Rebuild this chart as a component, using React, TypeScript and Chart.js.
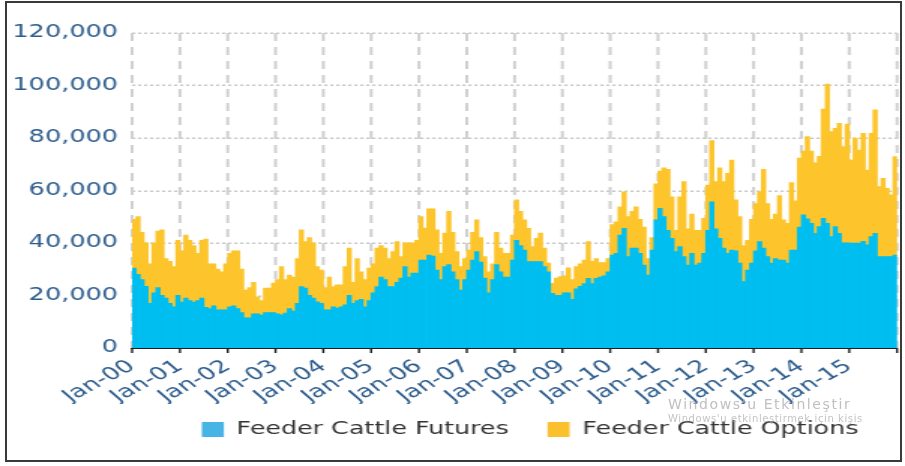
import React, { useEffect, useRef } from "react";
import Chart from "chart.js/auto";

// Monthly volume, thousands of contracts, Jan-2000 .. Dec-2015
const futuresVolume = [
  30.4, 28, 26, 23.5, 17, 21, 23, 20, 19, 17, 15.7, 20,
  17.5, 19, 18, 17.5, 18, 19, 15.5, 15, 16, 14.5, 14.5, 14.5,
  15.7, 16, 15, 13.5, 11.5, 11.5, 13, 13, 12.5, 13.5, 13.5, 13.5,
  13, 12.6, 13.3, 15, 14, 17, 23.4, 22.8, 20, 19, 17.6, 17,
  14.5, 14.5, 15.7, 15.2, 15.7, 16.4, 20, 17, 18, 18.5, 15.7, 18,
  21, 23.4, 27, 26, 23.4, 23.4, 25, 26.6, 31, 27, 28.5, 28.5,
  33.5, 33.5, 35.4, 35, 29.7, 26, 31, 31.8, 29, 26, 22, 26,
  29.7, 33.5, 36.7, 32.7, 26.6, 21, 26, 31.8, 29, 27, 27, 33.5,
  41, 39, 37.3, 32.9, 32.9, 32.9, 32.9, 31, 29, 20.8, 20, 20,
  21, 21, 18.5, 22.5, 23.5, 24.5, 26.5, 24.5, 26.5, 27, 27.5, 29,
  35.4, 36, 43, 45.6, 34.8, 38, 38, 36, 31.6, 27.8, 37.3, 48.8,
  53.2, 50, 44.8, 41.8, 36.7, 38.6, 34.8, 31.6, 36, 31.6, 32.3, 36,
  44.8, 55.7, 45.4, 41.8, 38, 36, 37.3, 37, 32.3, 25.3, 29.7, 32.3,
  37, 40.5, 38, 34.8, 32.3, 34, 33.5, 33.5, 32.3, 37.3, 37.3, 46,
  50.7, 49.2, 47.5, 43.7, 46.2, 49.4, 47.5, 42.4, 46.2, 43.7, 40, 40,
  39.9, 39.9, 39.9, 40.6, 39.3, 42.4, 43.7, 34.8, 34.8, 34.8, 34.8, 35.4,
];

const optionsVolume = [
  18.6, 22, 18, 16.5, 15, 19, 21.5, 25, 15, 16, 15.3, 21,
  19.5, 24, 23, 21.5, 18, 22, 26, 17, 16, 15.5, 14.5, 17.5,
  20.3, 21, 22, 16.5, 10.5, 11.5, 12, 6.5, 5.5, 9.3, 9.3, 11.2,
  13, 18.4, 12.7, 12.8, 13, 17, 21.6, 17.7, 22, 21, 13.4, 12.7,
  8.5, 12.5, 7.7, 8.8, 8.3, 14.6, 18, 8, 16, 10.5, 10.3, 12.4,
  11, 14.6, 12, 12, 10.6, 13.3, 15.5, 8.2, 9, 13, 11.5, 12.5,
  16.5, 12.2, 17.6, 18, 15.3, 10, 12.8, 20.2, 15, 10.7, 9, 8,
  7.6, 10.5, 12.1, 9.3, 8.2, 8, 6, 12.2, 9, 9, 9, 9.5,
  15.4, 13, 11.5, 12.7, 5.7, 8.9, 10.9, 7, 3.3, 3.8, 6.6, 7.2,
  6.5, 9.5, 7.5, 8.5, 8.5, 9, 14, 8.5, 7.5, 5.5, 5, 5,
  11.6, 12, 10.8, 13.9, 15.2, 14, 15.8, 13, 14.4, 6.2, 4.7, 13.7,
  14.2, 18.6, 23.2, 15.8, 8.1, 19, 28.6, 13.8, 15, 13.2, 12.5, 13.4,
  17.2, 23.3, 18, 26.8, 25.4, 30.5, 34.3, 19.4, 17.7, 13.7, 11.3, 16.7,
  18, 19.1, 30, 20.2, 16.7, 17, 24.5, 15.3, 15.2, 25.7, 18.7, 26.3,
  24.3, 31.3, 27.5, 26.8, 26.8, 41.6, 53, 40, 37.5, 41.9, 36.7, 45.3,
  31.7, 40, 35.5, 41.2, 28.5, 39.4, 47, 26.7, 29.8, 26, 23.5, 37.5,
];

const yearTickLabels = [
  "Jan-00", "Jan-01", "Jan-02", "Jan-03", "Jan-04", "Jan-05", "Jan-06", "Jan-07",
  "Jan-08", "Jan-09", "Jan-10", "Jan-11", "Jan-12", "Jan-13", "Jan-14", "Jan-15",
];

const seriesNames = ["Feeder Cattle Futures", "Feeder Cattle Options"];
const seriesColors = ["#00BEF0", "#FDC52C"];
const legendColors = ["#47B4E6", "#FBC02D"];

const FONT = "'DejaVu Sans', sans-serif";
// the reference picture is horizontally stretched: render narrow, display wide
const INNER_W = 603;
const OUTER_W = 905;
const H = 466;

// dashed grid + dark tick marks, placed through the chart's own scales
const dashedGrid = {
  id: "dashedGrid",
  beforeDatasetsDraw(chart: any) {
    const { ctx, chartArea: a, scales } = chart;
    const x = scales.x;
    const y = scales.y;
    ctx.save();
    ctx.strokeStyle = "#c9c9c9";
    ctx.lineWidth = 1.6;
    ctx.setLineDash([2.2, 1.8]);
    y.ticks.forEach((t: any) => {
      if (t.value === 0) return;
      const py = Math.round(y.getPixelForValue(t.value)) + 0.2;
      ctx.beginPath();
      ctx.moveTo(a.left, py);
      ctx.lineTo(a.right, py);
      ctx.stroke();
    });
    ctx.strokeStyle = "#d0d0d0";
    ctx.lineWidth = 2;
    ctx.setLineDash([8, 6]);
    x.ticks.forEach((t: any) => {
      const px = x.getPixelForValue(t.value);
      ctx.beginPath();
      ctx.moveTo(px, a.top);
      ctx.lineTo(px, a.bottom);
      ctx.stroke();
    });
    ctx.setLineDash([]);
    ctx.strokeStyle = "#1e1e1e";
    ctx.lineWidth = 1.4;
    x.ticks.forEach((t: any) => {
      const px = x.getPixelForValue(t.value);
      ctx.beginPath();
      ctx.moveTo(px, a.bottom);
      ctx.lineTo(px, a.bottom + 5);
      ctx.stroke();
    });
    ctx.restore();
  },
};

export default function App() {
  const canvasRef = useRef<HTMLCanvasElement | null>(null);

  useEffect(() => {
    const canvas = canvasRef.current;
    if (!canvas) return;
    const toPoints = (arr: number[]) => arr.map((v, i) => ({ x: i + 0.5, y: v * 1000 }));
    const legendPad = ["\u00A0\u2009", "\u00A0\u2009"];
    const chart = new Chart(canvas, {
      type: "bar",
      plugins: [dashedGrid],
      data: {
        datasets: [
          {
            label: seriesNames[0],
            data: toPoints(futuresVolume),
            backgroundColor: seriesColors[0],
            borderWidth: 0,
            barPercentage: 1,
            categoryPercentage: 1,
            inflateAmount: 0.4,
          },
          {
            label: seriesNames[1],
            data: toPoints(optionsVolume),
            backgroundColor: seriesColors[1],
            borderWidth: 0,
            barPercentage: 1,
            categoryPercentage: 1,
            inflateAmount: 0.4,
          },
        ],
      },
      options: {
        animation: false,
        responsive: false,
        maintainAspectRatio: false,
        devicePixelRatio: 1,
        layout: { padding: { left: 0, right: 5.3, top: 33, bottom: 18.1 } },
        plugins: {
          tooltip: { enabled: false },
          title: { display: false },
          legend: {
            display: true,
            position: "bottom",
            align: "end",
            labels: {
              boxWidth: 14.7,
              boxHeight: 15,
              padding: 17,
              color: "#333333",
              font: { family: FONT, size: 16.9 },
              generateLabels: (ch: any) => {
                const items = (Chart as any).defaults.plugins.legend.labels.generateLabels(ch);
                items.forEach((it: any, i: number) => {
                  it.text = it.text + legendPad[i];
                  it.fillStyle = legendColors[i];
                  it.strokeStyle = legendColors[i];
                  it.lineWidth = 0;
                });
                return items;
              },
            },
          },
        },
        scales: {
          x: {
            type: "linear",
            stacked: true,
            min: 0,
            max: 192,
            offset: false,
            afterFit: (s: any) => {
              s.height = 56;
              s.paddingLeft = 0;
              s.paddingRight = 0;
            },
            border: { display: true, color: "#1e1e1e", width: 2 },
            grid: { display: false, drawTicks: false, offset: false },
            ticks: {
              stepSize: 12,
              autoSkip: false,
              minRotation: 38,
              maxRotation: 38,
              padding: 8,
              color: "#2c5c8c",
              font: { family: FONT, size: 17.5 },
              callback: (v: any) => {
                const idx = Math.round(Number(v) / 12);
                return idx < yearTickLabels.length ? yearTickLabels[idx] : "";
              },
            },
          },
          y: {
            stacked: true,
            min: 0,
            max: 120000,
            afterFit: (s: any) => {
              s.width = 88;
            },
            border: { display: false },
            grid: { display: false, drawTicks: false },
            ticks: {
              stepSize: 20000,
              padding: 9.4,
              color: "#2c5c8c",
              font: { family: FONT, size: 17 },
              callback: (v: any) => Number(v).toLocaleString("en-US"),
            },
          },
        },
      },
    });
    return () => {
      chart.destroy();
    };
  }, []);

  return (
    <div
      style={{
        position: "fixed",
        left: 0,
        top: 0,
        width: OUTER_W,
        height: H,
        background: "#ffffff",
        overflow: "hidden",
      }}
    >
      <canvas
        ref={canvasRef}
        width={INNER_W}
        height={H}
        style={{ width: OUTER_W + "px", height: H + "px", display: "block" }}
      />
      <div
        style={{
          position: "absolute",
          left: 668,
          top: 396,
          fontFamily: FONT,
          fontSize: 14,
          letterSpacing: "1.6px",
          color: "rgba(170,170,170,0.75)",
          whiteSpace: "nowrap",
          pointerEvents: "none",
        }}
      >
        Windows'u Etkinleştir
      </div>
      <div
        style={{
          position: "absolute",
          left: 668,
          top: 413,
          fontFamily: FONT,
          fontSize: 10,
          letterSpacing: "0.6px",
          color: "rgba(170,170,170,0.7)",
          whiteSpace: "nowrap",
          pointerEvents: "none",
        }}
      >
        Windows'u etkinleştirmek için kişis
      </div>
      <div
        style={{
          position: "absolute",
          left: 5,
          top: 1,
          width: 897,
          height: 461,
          border: "2px solid #3a3a3a",
          boxSizing: "border-box",
          pointerEvents: "none",
        }}
      />
    </div>
  );
}
